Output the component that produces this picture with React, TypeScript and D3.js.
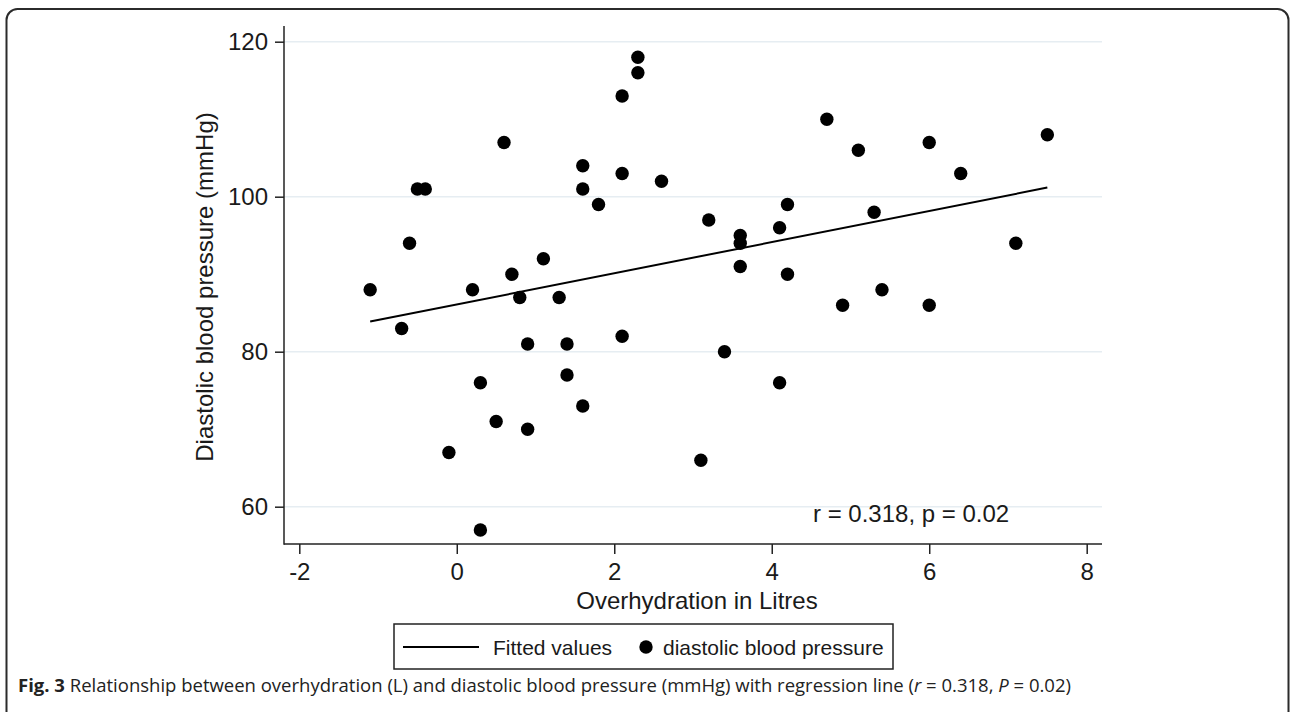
import React, { useEffect, useRef } from "react"
import * as d3 from "d3"

// overhydration (L) and diastolic blood pressure (mmHg)
const overhydration = [
  -1.1, -0.7, -0.6, -0.5, -0.4, -0.1, 0.2, 0.3, 0.3, 0.5, 0.6, 0.7, 0.8, 0.9, 0.9, 1.1, 1.3,
  1.4, 1.4, 1.6, 1.6, 1.6, 1.8, 2.1, 2.1, 2.1, 2.3, 2.3, 2.6, 3.1, 3.2, 3.4, 3.6, 3.6, 3.6,
  4.1, 4.1, 4.2, 4.2, 4.7, 4.9, 5.1, 5.3, 5.4, 6.0, 6.0, 6.4, 7.1, 7.5,
]
const diastolic = [
  88, 83, 94, 101, 101, 67, 88, 76, 57, 71, 107, 90, 87, 81, 70, 92, 87,
  81, 77, 104, 101, 73, 99, 113, 103, 82, 118, 116, 102, 66, 97, 80, 95, 94, 91,
  96, 76, 99, 90, 110, 86, 106, 98, 88, 107, 86, 103, 94, 108,
]
// fitted line (from the figure)
const fitIntercept = 86.1
const fitSlope = 2.01

const xTicks = [-2, 0, 2, 4, 6, 8]
const yTicks = [60, 80, 100, 120]
const legendLabels = ["Fitted values", "diastolic blood pressure"]
const statsLabel = "r = 0.318, p = 0.02"

export default function App() {
  const ref = useRef<SVGSVGElement>(null)

  useEffect(() => {
    const svg = d3.select(ref.current)
    svg.selectAll("*").remove()

    const font = "'Liberation Sans', Arial, sans-serif"
    const ink = "#1a1a1a"
    const left = 284, right = 1102, top = 26, bottom = 544

    const x = d3.scaleLinear().domain([-2, 8]).range([299.3, 1086.7])
    const y = d3.scaleLinear().domain([60, 120]).range([506.7, 41.7])

    // outer frame
    svg.append("rect")
      .attr("x", 6.5).attr("y", 9).attr("width", 1282).attr("height", 720)
      .attr("rx", 11).attr("fill", "white").attr("stroke", "#2b2b2b").attr("stroke-width", 2)

    // grid
    svg.append("g").selectAll("line").data(yTicks).enter().append("line")
      .attr("x1", left).attr("x2", right)
      .attr("y1", d => y(d)).attr("y2", d => y(d))
      .attr("stroke", "#e6edf2").attr("stroke-width", 1.5)

    // y axis
    const yAxis = svg.append("g")
      .attr("transform", `translate(${left},0)`)
      .call(d3.axisLeft(y).tickValues(yTicks).tickSize(9).tickPadding(7))
    yAxis.select(".domain").remove()
    yAxis.append("line").attr("x1", 0).attr("x2", 0).attr("y1", top).attr("y2", bottom + 0.75)
      .attr("stroke", "#222").attr("stroke-width", 1.5)
    yAxis.selectAll(".tick line").attr("stroke", "#222").attr("stroke-width", 1.5)
    yAxis.selectAll(".tick text").attr("font-family", font).attr("font-size", 24).attr("fill", ink)

    // x axis
    const xAxis = svg.append("g")
      .attr("transform", `translate(0,${bottom})`)
      .call(d3.axisBottom(x).tickValues(xTicks).tickSize(10).tickPadding(9))
    xAxis.select(".domain").remove()
    xAxis.append("line").attr("x1", left).attr("x2", right).attr("y1", 0).attr("y2", 0)
      .attr("stroke", "#222").attr("stroke-width", 1.5)
    xAxis.selectAll(".tick line").attr("stroke", "#222").attr("stroke-width", 1.5)
    xAxis.selectAll(".tick text").attr("font-family", font).attr("font-size", 24).attr("fill", ink)
      .text(d => String(d).replace("−", "-"))

    // axis titles
    svg.append("text")
      .attr("x", 697).attr("y", 609).attr("text-anchor", "middle")
      .attr("font-family", font).attr("font-size", 24).attr("fill", ink)
      .text("Overhydration in Litres")
    svg.append("text")
      .attr("transform", "translate(213,287) rotate(-90)").attr("text-anchor", "middle")
      .attr("font-family", font).attr("font-size", 24).attr("fill", ink)
      .text("Diastolic blood pressure (mmHg)")

    // fitted line
    const xr = d3.extent(overhydration) as [number, number]
    svg.append("line")
      .attr("x1", x(xr[0])).attr("y1", y(fitIntercept + fitSlope * xr[0]))
      .attr("x2", x(xr[1])).attr("y2", y(fitIntercept + fitSlope * xr[1]))
      .attr("stroke", "#000").attr("stroke-width", 2)

    // points
    svg.append("g").selectAll("circle").data(overhydration).enter().append("circle")
      .attr("cx", d => x(d)).attr("cy", (d, i) => y(diastolic[i]))
      .attr("r", 6.7).attr("fill", "#000")

    // stats
    svg.append("text")
      .attr("x", 813).attr("y", 522)
      .attr("font-family", font).attr("font-size", 24).attr("fill", ink)
      .text(statsLabel)

    // legend
    const lg = svg.append("g")
    lg.append("rect").attr("x", 394).attr("y", 624).attr("width", 499).attr("height", 45)
      .attr("fill", "white").attr("stroke", "#222").attr("stroke-width", 1.5)
    lg.append("line").attr("x1", 403).attr("x2", 479).attr("y1", 647).attr("y2", 647)
      .attr("stroke", "#000").attr("stroke-width", 2)
    lg.append("text").attr("x", 493).attr("y", 654.5)
      .attr("font-family", font).attr("font-size", 21).attr("fill", ink).text(legendLabels[0])
    lg.append("circle").attr("cx", 646).attr("cy", 647).attr("r", 6.7).attr("fill", "#000")
    lg.append("text").attr("x", 663).attr("y", 654.5)
      .attr("font-family", font).attr("font-size", 21).attr("fill", ink).text(legendLabels[1])

    // caption
    const cap = svg.append("text")
      .attr("x", 18).attr("y", 692)
      .attr("font-family", "'Open Sans', 'Noto Sans', sans-serif").attr("font-size", 18.5).attr("fill", "#222")
    cap.append("tspan").attr("font-weight", "bold").text("Fig. 3")
    cap.append("tspan").text(" Relationship between overhydration (L) and diastolic blood pressure (mmHg) with regression line (")
    cap.append("tspan").attr("font-style", "italic").text("r")
    cap.append("tspan").text(" = 0.318, ")
    cap.append("tspan").attr("font-style", "italic").text("P")
    cap.append("tspan").text(" = 0.02)")
  }, [])

  return (
    <svg
      ref={ref}
      width={1292}
      height={712}
      style={{ position: "absolute", left: 0, top: 0, background: "white" }}
    />
  )
}
